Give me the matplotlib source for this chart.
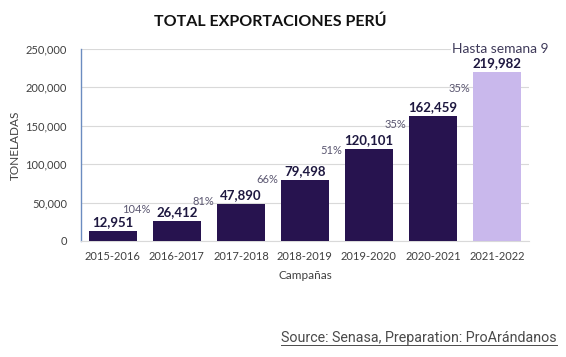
import matplotlib.pyplot as plt
from matplotlib.lines import Line2D
from matplotlib.ticker import FuncFormatter

campaigns = ["2015-2016", "2016-2017", "2017-2018", "2018-2019", "2019-2020", "2020-2021", "2021-2022"]
tonnes = [12951, 26412, 47890, 79498, 120101, 162459, 219982]
growth = ["104%", "81%", "66%", "51%", "35%", "35%"]

# vertical nudges (points) for the growth labels, as they sit in the original
growth_dy = [8, 2, 0, -1.5, -6, -12]

plt.rcParams['font.family'] = ['Lato', 'DejaVu Sans']

dark = "#27134f"
light = "#c9b8ec"
tick_col = "#404040"

fig = plt.figure(figsize=(5.66, 3.57), dpi=100)
ax = fig.add_axes([0.143, 0.325, 0.7915, 0.538])

colors = [dark] * (len(tonnes) - 1) + [light]
x = range(len(campaigns))
ax.bar(x, tonnes, width=0.75, color=colors, zorder=3)

ax.set_xlim(-0.5, len(campaigns) - 0.5)
ax.set_ylim(0, 250000)
ax.set_yticks(range(0, 250001, 50000))
ax.yaxis.set_major_formatter(FuncFormatter(lambda v, p: f"{int(v):,}"))
ax.set_xticks(list(x))
ax.set_xticklabels(campaigns)
ax.tick_params(axis='both', length=0, labelsize=8, colors=tick_col)
ax.tick_params(axis='x', pad=7)
ax.tick_params(axis='y', pad=10)

ax.grid(axis='y', color="#d9d9d9", linewidth=0.8, zorder=0)
for s in ["top", "right"]:
    ax.spines[s].set_visible(False)
ax.spines["left"].set_color("#6b8cc0")
ax.spines["left"].set_linewidth(1.0)
ax.spines["bottom"].set_color("#d9d9d9")

# value labels
for i, v in enumerate(tonnes):
    ax.annotate(f"{v:,}", xy=(i, v), xytext=(0, 2), textcoords="offset points",
                ha="center", va="bottom", fontsize=9.5, fontweight="bold",
                color="#1e1840", zorder=4)

# growth labels, just left of each following bar
for k, g in enumerate(growth):
    i = k + 1
    ax.annotate(g, xy=(i - 0.375, tonnes[i]), xytext=(-2, growth_dy[k]),
                textcoords="offset points", ha="right", va="center",
                fontsize=8, color="#5a5670", zorder=4)

ax.text(len(campaigns) - 1 - 0.7, 250000, "Hasta semana 9", ha="left", va="center",
        fontsize=10, color="#3f3a5a", zorder=5,
        bbox=dict(facecolor="white", edgecolor="none", pad=0.5))

ax.set_ylabel("TONELADAS", fontsize=8.5, color=tick_col)
ax.yaxis.set_label_coords(-0.134, 0.5)
ax.set_xlabel("Campañas", fontsize=8.5, color=tick_col, labelpad=6)

fig.text(0.478, 0.938, "TOTAL EXPORTACIONES PERÚ", ha="center", va="center",
         fontsize=11.5, fontweight="bold", color="#111111")

src = fig.text(0.984, 0.043, "Source: Senasa, Preparation: ProArándanos", ha="right",
               va="baseline", fontsize=10.3, color="#4a4a4a", family=["Roboto", "DejaVu Sans"])

# underline the source line
fig.canvas.draw()
bb = src.get_window_extent().transformed(fig.transFigure.inverted())
fig.add_artist(Line2D([bb.x0, bb.x1], [0.034, 0.034], color="#4a4a4a", linewidth=0.7,
                      transform=fig.transFigure))

fig.savefig("out.png", dpi=100, facecolor="white")
